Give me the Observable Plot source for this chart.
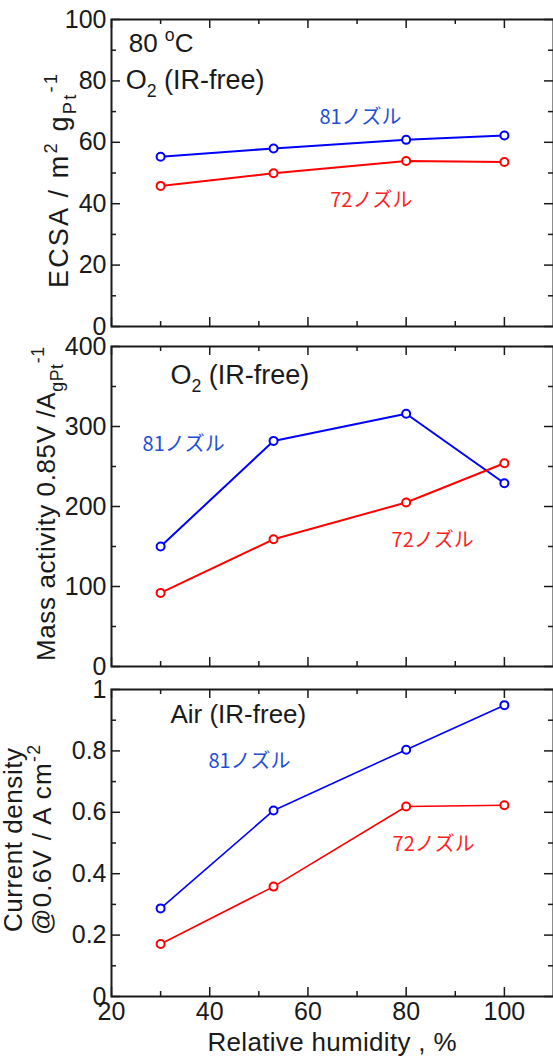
<!DOCTYPE html>
<html>
<head>
<meta charset="utf-8">
<script src="https://cdn.jsdelivr.net/npm/d3@7"></script>
<script src="https://cdn.jsdelivr.net/npm/@observablehq/plot@0.6"></script>
<style>
  html, body { margin: 0; padding: 0; background: #fff; }
  #chart { width: 553px; }
  #chart svg { display: block; }
</style>
</head>
<body>
<div id="chart"></div>
<script>
// ---------- data ----------
const rh = [30, 53, 80, 100];
const series = ["81ノズル", "72ノズル"];
const ecsa81 = [55.3, 58.0, 60.8, 62.2];
const ecsa72 = [45.8, 49.9, 53.9, 53.6];
const ma81 = [150, 282, 316, 229];
const ma72 = [92, 159, 205, 254];
const cd81 = [0.287, 0.606, 0.804, 0.949];
const cd72 = [0.171, 0.358, 0.619, 0.623];
const xTicks = [20, 40, 60, 80, 100];
const xMinor = [30, 50, 70, 90];
const ecsaTicks = [0, 20, 40, 60, 80, 100];
const ecsaMinor = [10, 30, 50, 70, 90];
const maTicks = [0, 100, 200, 300, 400];
const maMinor = [50, 150, 250, 350];
const cdTicks = [0, 0.2, 0.4, 0.6, 0.8, 1];
const cdMinor = [0.1, 0.3, 0.5, 0.7, 0.9];

// ---------- styling ----------
const W = 553, ML = 111, MR = 0;
const BLUE = "#0000ff", RED = "#ff0000";
const BLUE_T = "#1f4fd6", RED_T = "#ff1f1f";
const INK = "#1a1a1a";
const FONT = "'Liberation Sans', Arial, sans-serif";
const JFONT = "'Noto Sans CJK JP', sans-serif";
const SVGNS = "http://www.w3.org/2000/svg";

function rich(el, markup, fs) {
  const parts = []; let i = 0, buf = "";
  while (i < markup.length) {
    const c = markup[i];
    if ((c === "_" || c === "^") && i + 1 < markup.length) {
      if (buf) { parts.push({t: buf, l: 0}); buf = ""; }
      let s;
      if (markup[i + 1] === "{") { const j = markup.indexOf("}", i); s = markup.slice(i + 2, j); i = j + 1; }
      else { s = markup[i + 1]; i += 2; }
      parts.push({t: s, l: c === "_" ? -1 : 1});
    } else { buf += c; i++; }
  }
  if (buf) parts.push({t: buf, l: 0});
  el.textContent = "";
  let cur = 0;
  for (const p of parts) {
    const target = p.l === 0 ? 0 : p.l < 0 ? 0.3 * fs : -0.42 * fs;
    const ts = document.createElementNS(SVGNS, "tspan");
    const d = target - cur;
    if (d) ts.setAttribute("dy", d);
    if (p.l) ts.setAttribute("font-size", 0.68 * fs);
    ts.textContent = p.t;
    el.appendChild(ts);
    cur = target;
  }
}

function panel({height, mt, mb, yDomain, yTicks, yMinor, y81, y72, notes, xAxis, lw = 2}) {
  const Hf = height - mt - mb, Wf = W - ML - MR;
  const d81 = rh.map((x, i) => ({x, y: y81[i]}));
  const d72 = rh.map((x, i) => ({x, y: y72[i]}));
  const tickStyle = {stroke: INK, strokeWidth: 1.5};
  const marks = [
    Plot.frame({stroke: INK, strokeWidth: 2}),
    Plot.tickX(xTicks, {x: d => d, insetTop: Hf - 9, ...tickStyle}),
    Plot.tickX(xTicks, {x: d => d, insetBottom: Hf - 9, ...tickStyle}),
    Plot.tickX(xMinor, {x: d => d, insetTop: Hf - 5, ...tickStyle}),
    Plot.tickX(xMinor, {x: d => d, insetBottom: Hf - 5, ...tickStyle}),
    Plot.tickY(yTicks, {y: d => d, insetRight: Wf - 9, ...tickStyle}),
    Plot.tickY(yTicks, {y: d => d, insetLeft: Wf - 9, ...tickStyle}),
    Plot.tickY(yMinor, {y: d => d, insetRight: Wf - 5, ...tickStyle}),
    Plot.tickY(yMinor, {y: d => d, insetLeft: Wf - 5, ...tickStyle}),
    Plot.axisY({ticks: yTicks, tickSize: 0, tickPadding: 5, label: null, tickFormat: d => String(d), fill: INK, fontSize: 25}),
    Plot.line(d81, {x: "x", y: "y", stroke: BLUE, strokeWidth: lw}),
    Plot.line(d72, {x: "x", y: "y", stroke: RED, strokeWidth: lw}),
    Plot.dot(d81, {x: "x", y: "y", r: 4, stroke: BLUE, fill: "white", strokeWidth: 2}),
    Plot.dot(d72, {x: "x", y: "y", r: 4, stroke: RED, fill: "white", strokeWidth: 2}),
    ...notes.map(n => Plot.text([n], {x: "x", y: "y", text: "t", textAnchor: n.anchor || "start",
      fill: n.fill || INK, fontSize: n.fs || 26, fontFamily: n.font || FONT}))
  ];
  if (xAxis) marks.push(Plot.axisX({ticks: xTicks, tickSize: 0, tickPadding: 6, label: null, tickFormat: d => String(d), fill: INK, fontSize: 25}));
  else marks.push(Plot.axisX({ticks: [], label: null, tickSize: 0}));
  const svg = Plot.plot({
    width: W, height, marginLeft: ML, marginRight: MR, marginTop: mt, marginBottom: mb,
    x: {domain: [20, 110]},
    y: {domain: yDomain},
    style: {background: "transparent", overflow: "visible", fontFamily: FONT, fontSize: "25px", color: INK},
    marks
  });
  svg.querySelectorAll("text").forEach(t => {
    const s = t.textContent;
    if (s.includes("_") || s.includes("^")) rich(t, s, 26);
  });
  return svg;
}

function yTitle(svg, markup, x, y, len, fs = 26) {
  const t = d3.select(svg).append("text")
    .attr("transform", `translate(${x},${y}) rotate(-90)`)
    .attr("text-anchor", "middle").attr("font-size", fs)
    .attr("font-family", FONT).attr("fill", INK);
  rich(t.node(), markup, fs);
  if (len) t.attr("textLength", len).attr("lengthAdjust", "spacing");
}

const root = document.getElementById("chart");

// Panel 1: ECSA
const p1 = panel({
  height: 336, mt: 19, mb: 10, yDomain: [0, 100], yTicks: ecsaTicks, yMinor: ecsaMinor,
  y81: ecsa81, y72: ecsa72,
  notes: [
    {x: 23.5, y: 92.2, t: "80 ^oC"},
    {x: 22.9, y: 80.1, t: "O_2 (IR-free)", fs: 27},
    {x: 70.7, y: 68.1, t: series[0], fill: BLUE_T, anchor: "middle", fs: 20, font: JFONT},
    {x: 72.9, y: 41.0, t: series[1], fill: RED_T, anchor: "middle", fs: 20, font: JFONT}
  ]
});
yTitle(p1, "ECSA / m^2 g_{Pt}^{-1}", 68, 181, 214, 27);
root.appendChild(p1);

// Panel 2: Mass activity
const p2 = panel({
  height: 340, mt: 10, mb: 10, yDomain: [0, 400], yTicks: maTicks, yMinor: maMinor,
  y81: ma81, y72: ma72,
  notes: [
    {x: 32.0, y: 363.7, t: "O_2 (IR-free)", fs: 27},
    {x: 34.7, y: 277.5, t: series[0], fill: BLUE_T, anchor: "middle", fs: 20, font: JFONT},
    {x: 85.4, y: 157.5, t: series[1], fill: RED_T, anchor: "middle", fs: 20, font: JFONT}
  ]
});
yTitle(p2, "Mass activity 0.85V /A_{gPt}^{-1}", 55, 168, 314);
root.appendChild(p2);

// Panel 3: Current density
const p3 = panel({
  height: 380, mt: 13, mb: 60, yDomain: [0, 1], yTicks: cdTicks, yMinor: cdMinor,
  y81: cd81, y72: cd72, xAxis: true, lw: 1.6,
  notes: [
    {x: 32.0, y: 0.919, t: "Air (IR-free)"},
    {x: 48.1, y: 0.765, t: series[0], fill: BLUE_T, anchor: "middle", fs: 20, font: JFONT},
    {x: 85.6, y: 0.495, t: series[1], fill: RED_T, anchor: "middle", fs: 20, font: JFONT}
  ]
});
yTitle(p3, "Current density", 22, 164, 184);
yTitle(p3, "@0.6V / A cm^{-2}", 51, 164, 190);
d3.select(p3).append("text")
  .attr("x", ML + (W - ML - MR) / 2).attr("y", 375)
  .attr("text-anchor", "middle").attr("font-size", 26)
  .attr("font-family", FONT).attr("fill", INK)
  .attr("textLength", 249).attr("lengthAdjust", "spacing")
  .text("Relative humidity , %");
root.appendChild(p3);
</script>
</body>
</html>
